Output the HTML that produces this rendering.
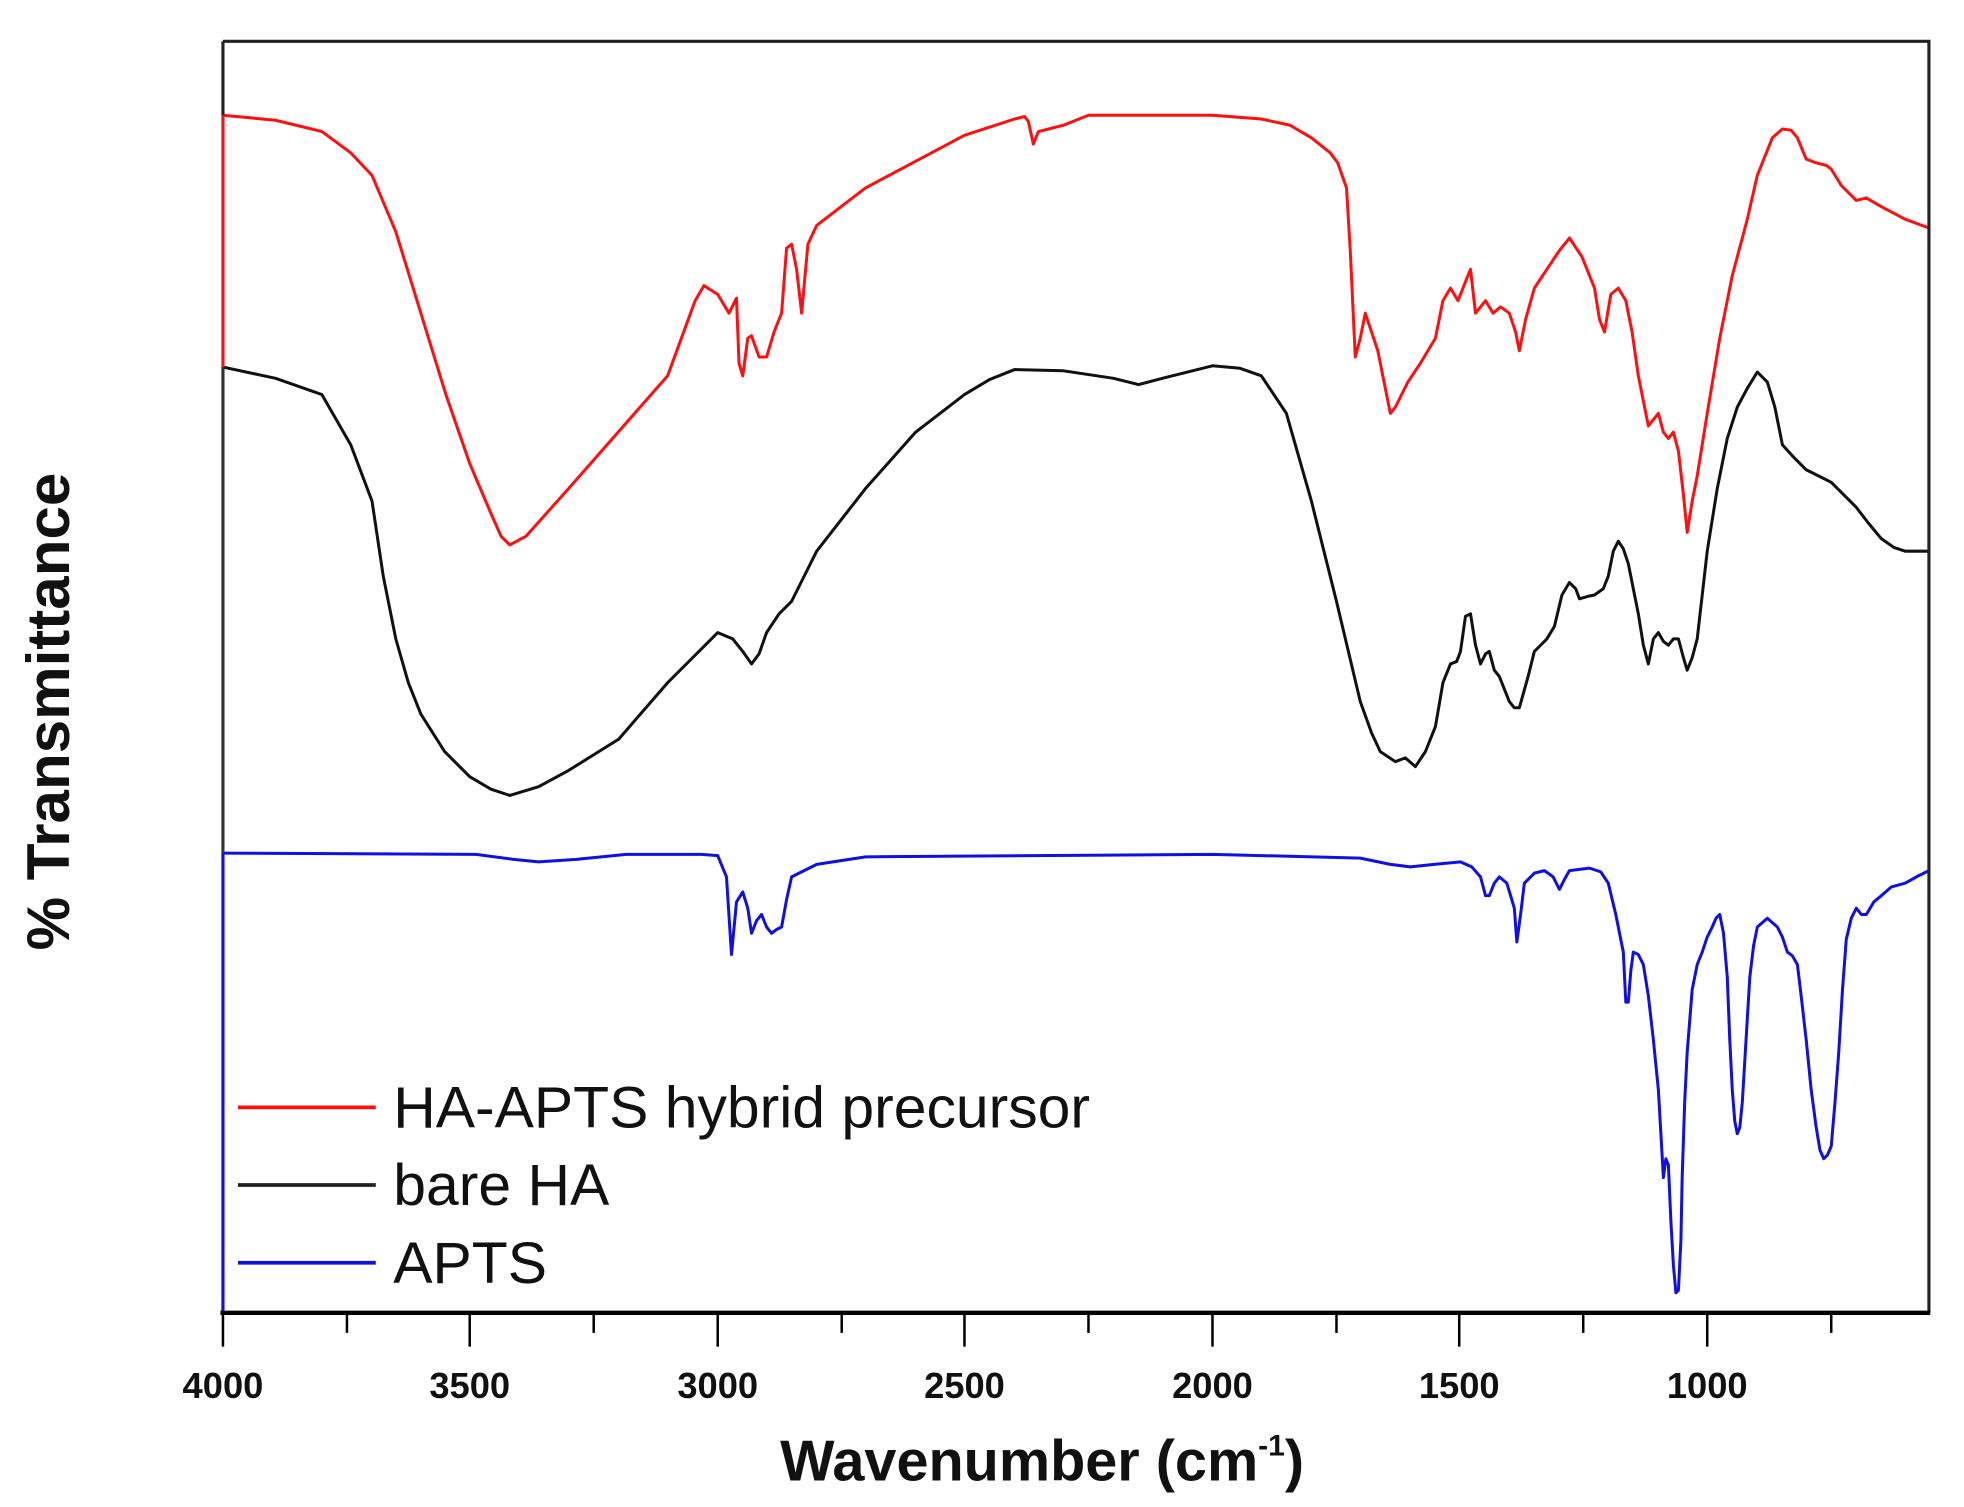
<!DOCTYPE html>
<html><head><meta charset="utf-8"><style>
html,body{margin:0;padding:0;background:#fff;}
svg{display:block;}
text{font-family:"Liberation Sans",Arial,sans-serif;}
</style></head><body>
<svg width="1964" height="1507" viewBox="0 0 1568 1203" preserveAspectRatio="none" xmlns="http://www.w3.org/2000/svg">
<rect width="1568" height="1203" fill="#fff"/>
<g fill="none" stroke-width="2.4" stroke-linejoin="round">
<polyline stroke="#ff1010" points="178,92 220,96 257,105 280,122 297,140 316,185 336,250 356,315 375,370 392,410 400,428 407,435 420,428 454,390 533,300 555,240 562,228 573,235 582,250 588,238 590,290 593,300 597,270 600,268 606,285 612,285 618,265 624,250 628,198 632,195 636,215 640,250 645,195 652,180 691,150 770,108 810,95 818,93 821,97 825,115 829,105 849,100 869,92 968,92 1007,95 1030,100 1047,110 1062,122 1068,130 1075,150 1078,200 1082,285 1086,270 1090,250 1100,280 1110,330 1114,325 1124,305 1134,290 1146,270 1152,240 1158,230 1164,240 1170,225 1174,215 1178,250 1182,245 1186,240 1192,250 1198,245 1205,250 1210,265 1213,280 1218,255 1225,230 1235,215 1245,200 1253,190 1263,205 1273,230 1277,255 1281,265 1286,235 1292,230 1298,240 1303,265 1308,300 1316,340 1320,335 1324,330 1328,345 1332,350 1336,345 1340,360 1344,395 1347,425 1351,400 1355,380 1363,330 1373,270 1383,220 1395,175 1403,140 1409,125 1415,110 1423,103 1430,104 1435,110 1442,127 1450,130 1458,132 1462,135 1470,148 1482,160 1490,158 1502,165 1521,175 1540,182"/>
<polyline stroke="#111" points="178,293 220,302 257,315 280,355 297,400 306,460 316,510 326,545 336,570 355,600 375,620 392,630 407,635 430,628 454,615 494,590 533,545 560,518 573,505 585,510 593,520 600,530 606,522 612,505 622,490 632,480 642,460 652,440 691,390 731,345 770,315 790,303 810,295 849,296 889,302 909,307 928,302 968,292 990,294 1007,300 1027,330 1047,400 1067,480 1086,560 1095,585 1102,600 1114,608 1122,605 1130,612 1138,600 1146,580 1152,545 1158,530 1163,528 1166,520 1170,492 1174,490 1178,515 1182,530 1186,522 1189,520 1193,535 1197,540 1205,560 1209,565 1213,565 1220,540 1225,520 1235,510 1241,500 1247,475 1253,465 1258,470 1261,478 1268,476 1273,475 1280,470 1284,460 1288,440 1292,432 1296,438 1300,450 1304,470 1308,490 1312,515 1316,530 1320,510 1324,505 1328,512 1332,515 1336,510 1340,510 1344,525 1347,535 1351,525 1355,510 1363,440 1371,390 1379,350 1387,325 1395,310 1403,297 1411,305 1417,325 1423,355 1432,365 1442,375 1452,380 1462,385 1472,395 1482,405 1492,418 1502,430 1512,437 1521,440 1540,440"/>
<polyline stroke="#1010e0" points="178,681 380,682 410,686 430,688 460,686 500,682 560,682 573,683 580,700 584,762 588,720 593,712 597,725 600,745 604,735 608,730 612,740 616,745 620,742 624,740 628,718 632,700 652,690 691,684 968,682 1086,685 1110,690 1126,692 1145,690 1166,688 1175,692 1182,700 1186,715 1189,715 1193,705 1197,700 1203,705 1209,725 1211,752 1214,730 1217,705 1225,697 1233,695 1240,700 1245,710 1249,702 1253,695 1269,693 1278,696 1284,705 1290,730 1296,760 1298,800 1300,800 1302,775 1304,760 1308,762 1312,770 1316,795 1320,830 1324,870 1326,905 1328,940 1330,925 1332,930 1334,975 1336,1010 1338,1032 1340,1030 1342,990 1343,940 1345,880 1347,840 1351,790 1355,770 1359,760 1363,748 1367,740 1370,733 1373,730 1376,745 1379,780 1381,830 1383,870 1385,895 1387,905 1389,900 1391,880 1394,830 1397,780 1400,755 1403,740 1411,733 1419,740 1423,748 1427,760 1431,763 1435,770 1438,795 1442,830 1446,870 1450,900 1453,918 1456,925 1459,922 1462,915 1465,880 1468,840 1471,790 1474,750 1478,733 1482,725 1486,730 1490,730 1496,720 1502,715 1510,708 1521,705 1530,700 1540,695"/>
</g>
<line x1="178" y1="33" x2="178" y2="92" stroke="#222" stroke-width="2.5"/>
<line x1="178" y1="92" x2="178" y2="293" stroke="#ff1010" stroke-width="2.5"/>
<line x1="178" y1="293" x2="178" y2="681" stroke="#333" stroke-width="2.5"/>
<line x1="178" y1="681" x2="178" y2="1048" stroke="#1010e0" stroke-width="2.5"/>
<polyline points="178,33 1540,33 1540,1048" fill="none" stroke="#222" stroke-width="2.5"/>
<line x1="176" y1="1048" x2="1541" y2="1048" stroke="#000" stroke-width="3.5"/>
<g stroke="#000" stroke-width="2">
<line x1="178" y1="1048" x2="178" y2="1075"/><line x1="277" y1="1048" x2="277" y2="1064"/>
<line x1="375" y1="1048" x2="375" y2="1075"/><line x1="474" y1="1048" x2="474" y2="1064"/>
<line x1="573" y1="1048" x2="573" y2="1075"/><line x1="672" y1="1048" x2="672" y2="1064"/>
<line x1="770" y1="1048" x2="770" y2="1075"/><line x1="869" y1="1048" x2="869" y2="1064"/>
<line x1="968" y1="1048" x2="968" y2="1075"/><line x1="1067" y1="1048" x2="1067" y2="1064"/>
<line x1="1165" y1="1048" x2="1165" y2="1075"/><line x1="1264" y1="1048" x2="1264" y2="1064"/>
<line x1="1363" y1="1048" x2="1363" y2="1075"/><line x1="1462" y1="1048" x2="1462" y2="1064"/>
</g>
<g font-size="29" font-weight="bold" text-anchor="middle" fill="#111">
<text x="178" y="1116">4000</text><text x="375" y="1116">3500</text><text x="573" y="1116">3000</text>
<text x="770" y="1116">2500</text><text x="968" y="1116">2000</text><text x="1165" y="1116">1500</text>
<text x="1363" y="1116">1000</text>
</g>
<text x="832" y="1182" font-size="46" font-weight="bold" text-anchor="middle" fill="#111">Wavenumber (cm<tspan font-size="24" dy="-20">-1</tspan><tspan dy="20">)</tspan></text>
<text transform="translate(55,568) rotate(-90)" font-size="48" font-weight="bold" text-anchor="middle" fill="#111">% Transmittance</text>
<g stroke-width="3">
<line x1="190" y1="884" x2="300" y2="884" stroke="#ff1010"/>
<line x1="190" y1="946" x2="300" y2="946" stroke="#222"/>
<line x1="190" y1="1008" x2="300" y2="1008" stroke="#1010e0"/>
</g>
<g font-size="47" fill="#111">
<text x="314" y="900">HA-APTS hybrid precursor</text>
<text x="314" y="962">bare HA</text>
<text x="314" y="1024">APTS</text>
</g>
</svg>
</body></html>
